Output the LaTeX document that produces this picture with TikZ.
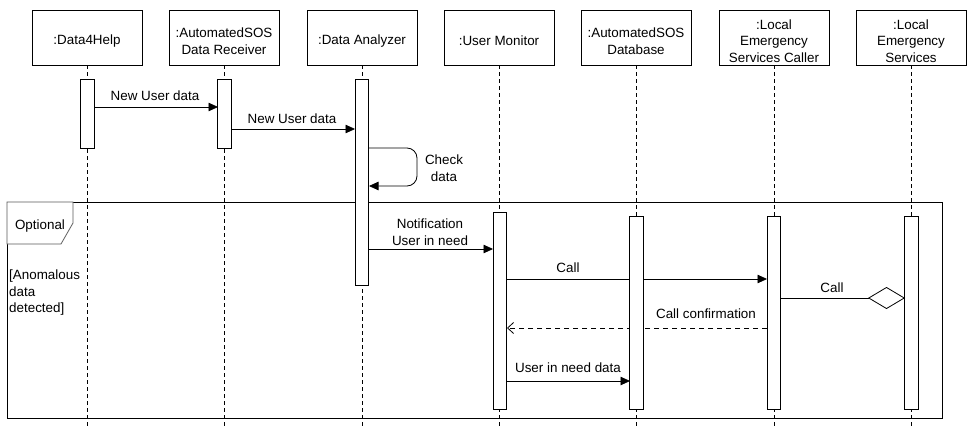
\documentclass[tikz,border=0pt]{standalone}
\usepackage{fontspec}
\setmainfont{Liberation Sans}
\usetikzlibrary{arrows.meta}
\begin{document}
\begin{tikzpicture}[x=1pt,y=-1pt,
  lbl/.style={font=\fontsize{13.4}{16.5}\selectfont, inner sep=0pt, align=center},
  head/.style={draw, line width=0.9pt, minimum width=110pt, minimum height=55pt, inner sep=0pt},
  htxt/.style={lbl},
  life/.style={line width=0.9pt, dash pattern=on 4pt off 3pt},
  act/.style={draw, fill=white, line width=0.9pt, minimum width=13.5pt, inner sep=0pt},
  msg/.style={line width=0.8pt, -{Triangle[length=9.5pt,width=8.5pt]}},
  ret/.style={line width=0.8pt, dash pattern=on 5pt off 4pt, -{Straight Barb[length=6pt,width=11pt]}},
  dia/.style={line width=0.8pt, -{Diamond[open,length=37pt,width=22pt,fill=white]}}
]
\useasboundingbox (0,0) rectangle (971,428);
% headers
\foreach \i/\x in {1/87,2/224,3/362,4/499,5/636,6/774,7/911}{
  \node[head] (h\i) at (\x,37.5) {};
}
\node[htxt] (t1) at ([yshift=-3.5pt]h1.center) {:Data4Help};
\node[htxt] (t2) at ([yshift=-3.5pt]h2.center) {:AutomatedSOS\\Data Receiver};
\node[htxt] (t3) at ([yshift=-3.5pt]h3.center) {:Data Analyzer};
\node[htxt] (t4) at ([yshift=-3.5pt]h4.center) {:User Monitor};
\node[htxt] (t5) at ([yshift=-3.5pt]h5.center) {:AutomatedSOS\\Database};
\node[htxt] (t6) at ([yshift=-3.5pt]h6.center) {:Local\\Emergency\\Services Caller};
\node[htxt] (t7) at ([yshift=-3.5pt]h7.center) {:Local\\Emergency\\Services};
% lifelines
\foreach \i/\x in {1/87,2/224,3/362,4/499,5/636,6/774,7/911}{
  \coordinate (e\i) at (\x,428);
  \draw[life] (h\i.south) -- (e\i);
}
% frame
\draw[line width=0.9pt] (7,202) rectangle (942,418);
\draw[line width=0.8pt, draw=black!65, fill=white] (7,202) -- (73,202) -- (73,223) -- (61,244) -- (7,244) -- cycle;
\node[lbl] (opt) at (40,226) {Optional};
\node[lbl, align=left, anchor=north west] (cond) at (9,270) {[Anomalous\\data\\detected]};
% message end points
\coordinate (c1s) at (94,107); \coordinate (c1e) at (218,107);
\coordinate (c2s) at (231,129); \coordinate (c2e) at (355,129);
\coordinate (c4s) at (369,249); \coordinate (c4e) at (493,249);
\coordinate (c5s) at (507,279); \coordinate (c5e) at (767,279);
\coordinate (c6s) at (781,298); \coordinate (c6e) at (905,298);
\coordinate (c7s) at (767,328); \coordinate (c7e) at (507,328);
\coordinate (c8s) at (507,381); \coordinate (c8e) at (630,381);
\draw[msg] (c5s) -- (c5e);
\draw[ret] (c7s) -- (c7e);
% activations
\node[act, minimum height=69pt, anchor=north] (a1) at (87.5,79) {};
\node[act, minimum height=69pt, anchor=north] (a2) at (224.5,79) {};
\node[act, minimum height=206pt, anchor=north] (a3) at (362,79) {};
\node[act, minimum height=197pt, anchor=north] (a4) at (500,212) {};
\node[act, minimum height=193pt, anchor=north] (a5) at (636.5,216) {};
\node[act, minimum height=193pt, anchor=north] (a6) at (774,216) {};
\node[act, minimum height=193pt, anchor=north] (a7) at (911.5,216) {};
% remaining messages
\draw[msg] (c1s) -- (c1e);
\node[lbl] (l1) at (155,96) {New User data};
\draw[msg] (c2s) -- (c2e);
\node[lbl] (l2) at (292,119) {New User data};
\coordinate (sl1) at (369,148); \coordinate (sl2) at (369,186);
\draw[msg, rounded corners=10pt] (sl1) -- (417,148) -- (417,186) -- (sl2);
\node[lbl] (l3) at (444,168) {Check\\data};
\draw[msg] (c4s) -- (c4e);
\node[lbl] (l4) at (430,232) {Notification\\User in need};
\node[lbl] (l5) at (568,268) {Call};
\draw[dia] (c6s) -- (c6e);
\node[lbl] (l6) at (832,288) {Call};
\node[lbl] (l7) at (706,314) {Call confirmation};
\draw[msg] (c8s) -- (c8e);
\node[lbl] (l8) at (568,368) {User in need data};
\end{tikzpicture}
\end{document}
